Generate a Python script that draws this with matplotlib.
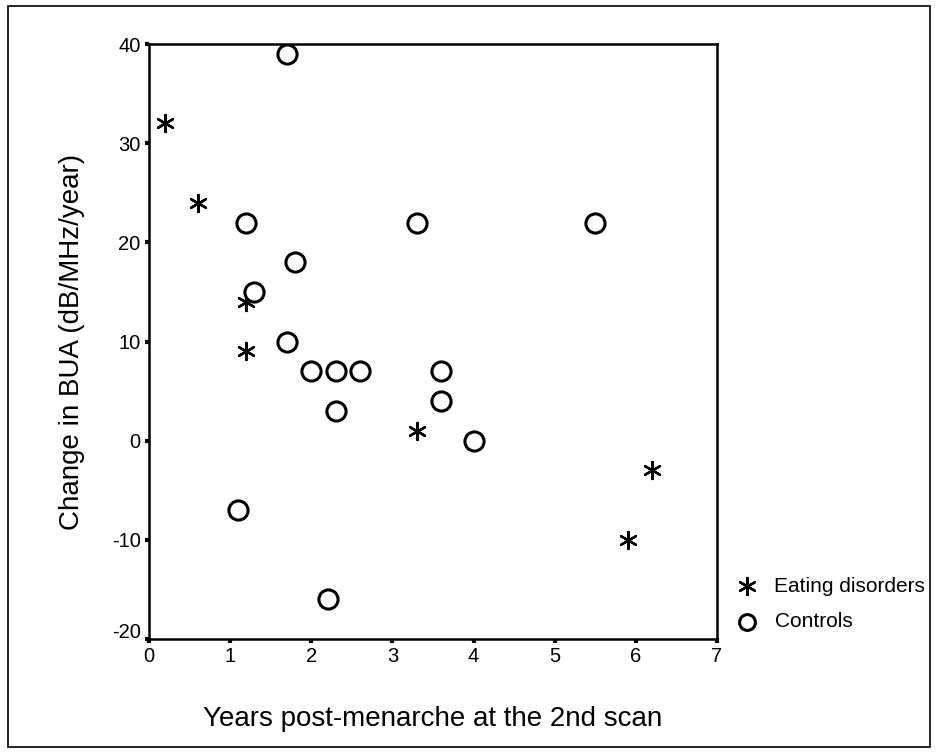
import matplotlib.pyplot as plt
from matplotlib.patches import Rectangle
from matplotlib.transforms import ScaledTranslation

plt.rcParams['font.family'] = ['Liberation Sans', 'DejaVu Sans']
plt.rcParams['axes.unicode_minus'] = False

# Eating disorders (asterisks)
ed_x = [0.2, 0.6, 1.2, 1.2, 3.3, 6.2, 5.9]
ed_y = [32, 24, 14, 9, 1, -3, -10]

# Controls (open circles)
ctrl_x = [1.7, 1.2, 1.3, 1.8, 1.7, 2.0, 2.3, 2.6, 2.3, 1.1, 2.2, 3.3, 5.5, 3.6, 3.6, 4.0]
ctrl_y = [39, 22, 15, 18, 10, 7, 7, 7, 3, -7, -16, 22, 22, 7, 4, 0]

fig = plt.figure(figsize=(9.39, 7.56), dpi=100)
ax = fig.add_axes([149 / 939, 1 - 639 / 756, (717 - 149) / 939, (639 - 44) / 756])

ax.scatter(ed_x, ed_y, marker=(6, 2, 0), s=150, color='black', linewidths=1.7,
           label='Eating disorders', zorder=3)
ax.scatter(ctrl_x, ctrl_y, marker='o', s=190, facecolors='white', edgecolors='black',
           linewidths=2.2, label='Controls', zorder=3)

ax.set_xlim(0, 7)
ax.set_ylim(-20, 40)
ax.set_xticks(range(0, 8))
ax.set_yticks(range(-20, 41, 10))
ax.tick_params(direction='out', length=3, width=3, labelsize=14.5, pad=3)
for sp in ax.spines.values():
    sp.set_linewidth(1.8)

# the -20 label sits a bit above its tick in the original
lab = ax.yaxis.get_major_ticks()[0].label1
lab.set_transform(lab.get_transform() + ScaledTranslation(0, 9 / 100, fig.dpi_scale_trans))

ax.set_xlabel('Years post-menarche at the 2nd scan', fontsize=20, va='center')
ax.xaxis.set_label_coords(0.5, -0.135)
ax.set_ylabel('Change in BUA (dB/MHz/year)', fontsize=20, va='center')
ax.yaxis.set_label_coords(-0.136, 0.5)

leg = ax.legend(loc='center left', bbox_to_anchor=(737 / 939, 1 - 604 / 756),
                bbox_transform=fig.transFigure, frameon=False,
                fontsize=15, handlelength=1.0, handletextpad=0.8, labelspacing=0.8,
                borderpad=0, borderaxespad=0, scatterpoints=1)
leg.legend_handles[0].set_sizes([150])
leg.legend_handles[1].set_sizes([130])

# outer frame around the whole figure
fig.patches.append(Rectangle((8 / 939, 9 / 756), 922 / 939, 741 / 756,
                             transform=fig.transFigure, fill=False,
                             edgecolor='black', linewidth=1.2))

fig.savefig('out.png', dpi=100)
